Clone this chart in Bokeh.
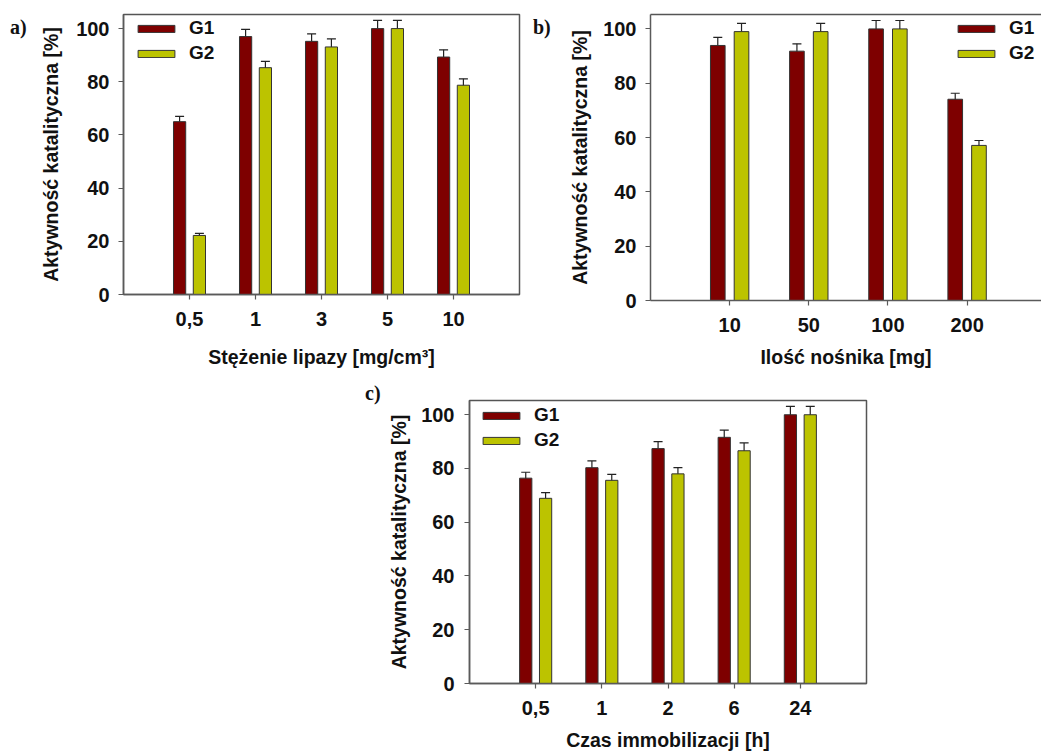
from bokeh.plotting import figure
from bokeh.models import (ColumnDataSource, Whisker, TeeHead, FixedTicker, Legend,
                          LegendItem, LinearAxis, Range1d, Spacer, Div)
from bokeh.layouts import column, row
from bokeh.embed import file_html
from bokeh.resources import INLINE

# ---------------- data ----------------
series_names = ["G1", "G2"]
y_label = "Aktywność katalityczna [%]"

a_categories = ["0,5", "1", "3", "5", "10"]
a_g1 = [65.0, 97.0, 95.2, 100.0, 89.3]
a_g1_err = [2.0, 2.7, 2.8, 3.1, 2.7]
a_g2 = [22.2, 85.3, 93.1, 100.0, 78.7]
a_g2_err = [0.8, 2.4, 3.0, 3.1, 2.4]
a_xlabel = "Stężenie lipazy [mg/cm³]"

b_categories = ["10", "50", "100", "200"]
b_g1 = [93.9, 91.8, 100.0, 74.1]
b_g1_err = [3.0, 2.7, 3.1, 2.2]
b_g2 = [99.0, 99.0, 100.0, 57.1]
b_g2_err = [3.0, 3.0, 3.1, 1.8]
b_xlabel = "Ilość nośnika [mg]"

c_categories = ["0,5", "1", "2", "6", "24"]
c_g1 = [76.4, 80.3, 87.4, 91.6, 100.0]
c_g1_err = [2.2, 2.5, 2.6, 2.7, 3.1]
c_g2 = [68.9, 75.6, 78.0, 86.6, 100.0]
c_g2_err = [2.1, 2.2, 2.3, 2.9, 3.1]
c_xlabel = "Czas immobilizacji [h]"

panel_tags = ["a)", "b)", "c)"]

# ---------------- style ----------------
FONT = "Liberation Sans"
COL_G1 = "#7e0000"
COL_G2 = "#bcc300"
EDGE = "#333333"
AXIS = "#5a5a5a"


def tag_div(text, w, h, pad_left, pad_top):
    html = ('<div style="font-family:\'Liberation Serif\';font-weight:bold;font-size:20px;'
            'line-height:23px;color:#111;padding-left:%dpx;padding-top:%dpx">%s</div>'
            % (pad_left, pad_top, text))
    return Div(text=html, width=w, height=h, margin=0)


def make_panel(cats, g1, g1e, g2, g2e, xlabel, geo):
    n = len(cats)
    p = figure(frame_width=geo["fw"], frame_height=geo["fh"], output_backend="svg",
               toolbar_location=None,
               x_range=Range1d(0, geo["xend"]), y_range=Range1d(0, 105.3),
               min_border_left=geo["bl"], min_border_right=geo["br"],
               min_border_top=geo["bt"], min_border_bottom=geo["bb"],
               background_fill_color="white", border_fill_color="white", margin=0)
    p.xgrid.visible = False
    p.ygrid.visible = False

    pos = list(range(1, n + 1))
    x1 = [v - 0.15 for v in pos]
    x2 = [v + 0.15 for v in pos]
    s1 = ColumnDataSource(dict(x=x1, top=g1, upper=[a + b for a, b in zip(g1, g1e)],
                               lower=[a - b for a, b in zip(g1, g1e)]))
    s2 = ColumnDataSource(dict(x=x2, top=g2, upper=[a + b for a, b in zip(g2, g2e)],
                               lower=[a - b for a, b in zip(g2, g2e)]))
    r1 = p.vbar(x="x", top="top", width=0.185, bottom=0, source=s1,
                fill_color=COL_G1, line_color=EDGE, line_width=1)
    r2 = p.vbar(x="x", top="top", width=0.185, bottom=0, source=s2,
                fill_color=COL_G2, line_color=EDGE, line_width=1)
    for s in (s1, s2):
        w = Whisker(source=s, base="x", upper="upper", lower="lower",
                    line_color="#222222", line_width=1.2,
                    upper_head=TeeHead(size=9, line_color="#222222", line_width=1.2),
                    lower_head=TeeHead(size=9, line_color="#222222", line_width=1.2))
        p.add_layout(w)

    # axes
    p.xaxis.ticker = FixedTicker(ticks=pos)
    p.xaxis.major_label_overrides = {v: c for v, c in zip(pos, cats)}
    p.yaxis.ticker = FixedTicker(ticks=[0, 20, 40, 60, 80, 100])
    for ax in (p.xaxis[0], p.yaxis[0]):
        ax.axis_line_color = AXIS
        ax.axis_line_width = 1.5
        ax.major_tick_line_color = AXIS
        ax.major_tick_line_width = 1.2
        ax.major_tick_in = 0
        ax.major_tick_out = 5
        ax.minor_tick_line_color = None
        ax.major_label_text_font = FONT
        ax.major_label_text_font_style = "bold"
        ax.major_label_text_font_size = "20px"
        ax.major_label_text_color = "#111111"
        ax.axis_label_text_font = FONT
        ax.axis_label_text_font_style = "bold"
        ax.axis_label_text_font_size = "19.5px"
        ax.axis_label_text_color = "#111111"
    p.xaxis.axis_label = xlabel
    p.yaxis.axis_label = y_label
    p.xaxis.major_label_standoff = geo["xls"]
    p.xaxis.axis_label_standoff = geo["xas"]
    p.yaxis.major_label_standoff = geo["yls"]
    p.yaxis.axis_label_standoff = geo["yas"]

    if geo["open_right"]:
        p.outline_line_color = None
        top_axis = LinearAxis(ticker=FixedTicker(ticks=[]), axis_line_color="#555555",
                              axis_line_width=1.5, major_tick_line_color=None,
                              minor_tick_line_color=None, major_tick_out=0,
                              major_label_standoff=0, major_label_text_font_size="0px")
        p.add_layout(top_axis, "above")
    else:
        p.outline_line_color = "#555555"
        p.outline_line_width = 1.5

    legend = Legend(items=[LegendItem(label=series_names[0], renderers=[r1]),
                           LegendItem(label=series_names[1], renderers=[r2])],
                    location=geo["leg"], glyph_width=46, glyph_height=9,
                    label_standoff=10, spacing=3, padding=0, margin=0,
                    label_height=21, border_line_color=None, background_fill_alpha=0,
                    label_text_font=FONT, label_text_font_style="bold",
                    label_text_font_size="19px", label_text_color="#111111")
    p.add_layout(legend)
    return p


pa = make_panel(a_categories, a_g1, a_g1_err, a_g2, a_g2_err, a_xlabel,
                dict(fw=396, fh=280, bl=93, br=2, bt=14, bb=76, xend=6.0,
                     xls=12, xas=17, yls=9, yas=11, open_right=False,
                     leg=(10, 230)))
pb = make_panel(b_categories, b_g1, b_g1_err, b_g2, b_g2_err, b_xlabel,
                dict(fw=391, fh=286, bl=100, br=0, bt=14, bb=70, xend=4.94,
                     xls=12, xas=11, yls=9, yas=9, open_right=True,
                     leg=(303, 236)))
pc = make_panel(c_categories, c_g1, c_g1_err, c_g2, c_g2_err, c_xlabel,
                dict(fw=397, fh=283, bl=84, br=4, bt=30, bb=71, xend=6.0,
                     xls=12, xas=11, yls=10, yas=8, open_right=False,
                     leg=(9, 232)))

tag_a = tag_div(panel_tags[0], 30, 370, 10, 16)
tag_b = tag_div(panel_tags[1], 29, 370, 12, 16)
tag_c = tag_div(panel_tags[2], 30, 384, 10, 12)

layout = column(row(tag_a, pa, tag_b, pb),
                row(Spacer(width=355, height=384, margin=0), tag_c, pc))

open("out.html", "w").write(file_html(layout, INLINE))
